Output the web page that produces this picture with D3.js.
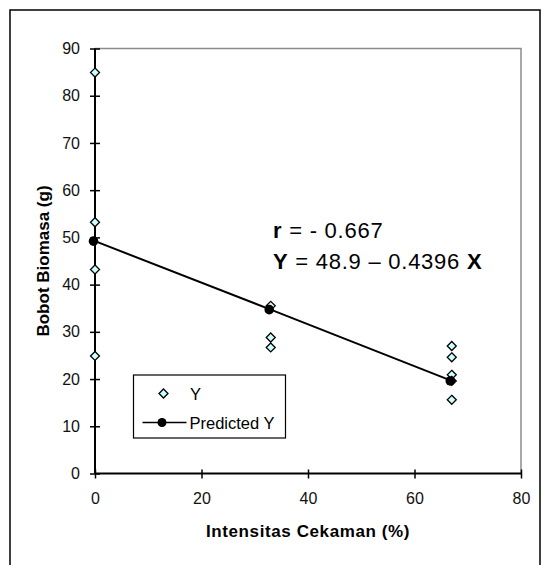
<!DOCTYPE html>
<html>
<head>
<meta charset="utf-8">
<script src="https://cdn.jsdelivr.net/npm/d3@7"></script>
<style>
  html, body { margin: 0; padding: 0; background: #fff; }
  svg { display: block; font-family: Arial, "Liberation Sans", sans-serif; }
</style>
</head>
<body>
<svg id="chart" width="546" height="565"></svg>
<script>
// Observed data (Y)
const obsX = [0, 0, 0, 0, 33, 33, 33, 67, 67, 67, 67, 67];
const obsY = [84.9, 53.2, 43.2, 24.9, 35.5, 28.8, 26.7, 27.0, 24.6, 20.9, 15.6, 19.6];
// Predicted Y
const predX = [0, 33, 67];
const predY = [49.2, 34.7, 19.6];
// Axis ticks
const xTicks = [0, 20, 40, 60, 80];
const yTicks = [0, 10, 20, 30, 40, 50, 60, 70, 80, 90];
const xTitle = "Intensitas Cekaman (%)";
const yTitle = "Bobot Biomasa (g)";
const legendLabels = ["Y", "Predicted Y"];

const svg = d3.select("#chart");
const L = 95, R = 521, T = 48.5, B = 473.5;
const x = d3.scaleLinear().domain([0, 80]).range([L, R]);
const y = d3.scaleLinear().domain([0, 90]).range([B, T]);

// outer border
svg.append("rect").attr("x", 10).attr("y", 10).attr("width", 530).attr("height", 600)
  .attr("fill", "none").attr("stroke", "#000").attr("stroke-width", 1.5);

// plot area border (gray top/right)
svg.append("path")
  .attr("d", `M${L},${T}H${R}V${B}`)
  .attr("fill", "none").attr("stroke", "#8c8c8c").attr("stroke-width", 1.5);

// Y axis
const yAxis = svg.append("g").attr("transform", `translate(${L},0)`)
  .call(d3.axisLeft(y).tickValues(yTicks).tickSize(5).tickPadding(10));
yAxis.select(".domain").remove();
yAxis.selectAll(".tick line").attr("x1", 5).attr("x2", -5).attr("stroke", "#000").attr("stroke-width", 1.5);
yAxis.selectAll(".tick text").attr("font-size", 16).attr("fill", "#111")
  .attr("font-family", "Arial, 'Liberation Sans', sans-serif").attr("x", -15);
svg.append("line").attr("x1", L).attr("x2", L).attr("y1", T).attr("y2", B)
  .attr("stroke", "#000").attr("stroke-width", 2);

// X axis
const xAxis = svg.append("g").attr("transform", `translate(0,${B})`)
  .call(d3.axisBottom(x).tickValues(xTicks).tickSize(5).tickPadding(14));
xAxis.select(".domain").remove();
xAxis.selectAll(".tick line").attr("y1", -4).attr("y2", 5).attr("stroke", "#000").attr("stroke-width", 1.5);
xAxis.selectAll(".tick text").attr("font-size", 16).attr("fill", "#111")
  .attr("font-family", "Arial, 'Liberation Sans', sans-serif");
svg.append("line").attr("x1", L).attr("x2", R).attr("y1", B).attr("y2", B)
  .attr("stroke", "#000").attr("stroke-width", 2);

// Titles
svg.append("text").attr("x", (L + R) / 2).attr("y", 537).attr("text-anchor", "middle")
  .attr("font-size", 17).attr("font-weight", "bold").attr("letter-spacing", 0.6)
  .text(xTitle);
svg.append("text").attr("transform", `translate(49,${(T + B) / 2}) rotate(-90)`)
  .attr("text-anchor", "middle").attr("font-size", 17).attr("font-weight", "bold")
  .text(yTitle);

// Regression line + predicted points
const line = d3.line().x((d, i) => x(predX[i])).y(d => y(d));
svg.append("path").datum(predY).attr("d", line)
  .attr("fill", "none").attr("stroke", "#000").attr("stroke-width", 2);

// diamonds
const diamond = (cx, cy, r) => `M${cx},${cy - r}L${cx + r},${cy}L${cx},${cy + r}L${cx - r},${cy}Z`;
svg.append("g").selectAll("path").data(obsY).join("path")
  .attr("d", (d, i) => diamond(x(obsX[i]), y(d), 4.5))
  .attr("fill", "#ccffff").attr("stroke", "#000").attr("stroke-width", 1.3);

svg.append("g").selectAll("circle").data(predY).join("circle")
  .attr("cx", (d, i) => x(predX[i]) - 1.5).attr("cy", d => y(d)).attr("r", 4.8)
  .attr("fill", "#000");

// Annotation
const ann = svg.append("g").attr("font-size", 22).attr("fill", "#000").attr("letter-spacing", 0.75);
const t1 = ann.append("text").attr("x", 273).attr("y", 237.5).attr("xml:space", "preserve");
t1.append("tspan").attr("font-weight", "bold").text("r");
t1.append("tspan").text(" = - 0.667");
const t2 = ann.append("text").attr("x", 273).attr("y", 268.5);
t2.append("tspan").attr("font-weight", "bold").text("Y");
t2.append("tspan").text(" = 48.9 \u2013 0.4396 ");
t2.append("tspan").attr("font-weight", "bold").text("X");

// Legend
const lg = svg.append("g");
lg.append("rect").attr("x", 133.5).attr("y", 375).attr("width", 152).attr("height", 63)
  .attr("fill", "#fff").attr("stroke", "#000").attr("stroke-width", 1.2);
lg.append("path").attr("d", diamond(163.5, 393.5, 4.5))
  .attr("fill", "#ccffff").attr("stroke", "#000").attr("stroke-width", 1.3);
lg.append("text").attr("x", 190).attr("y", 400).attr("font-size", 16.5).text(legendLabels[0]);
lg.append("line").attr("x1", 142.5).attr("x2", 186.5).attr("y1", 422.5).attr("y2", 422.5)
  .attr("stroke", "#000").attr("stroke-width", 1.5);
lg.append("circle").attr("cx", 162).attr("cy", 422.5).attr("r", 4.5).attr("fill", "#000");
lg.append("text").attr("x", 189.5).attr("y", 428.5).attr("font-size", 16.5).text(legendLabels[1]);
</script>
</body>
</html>
